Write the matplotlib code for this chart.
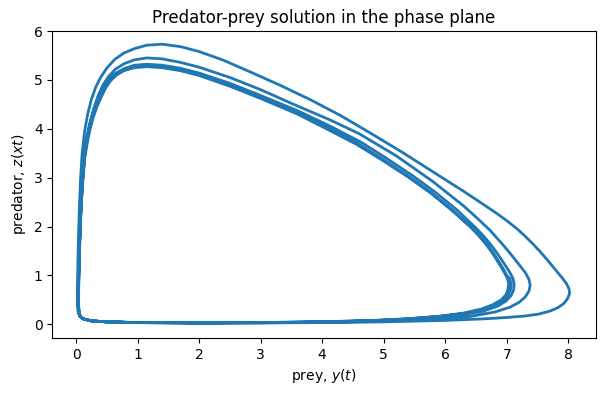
import matplotlib
matplotlib.use("Agg")
import matplotlib.pyplot as plt

# Loop A (outermost, first cycle)
prey_a = [0.12, 0.25, 0.5, 1.0, 2.0, 3.0, 4.0, 5.0, 6.0, 6.6, 7.0, 7.3, 7.52, 7.7, 7.83, 7.93, 7.99, 8.02,
          8.01, 7.97, 7.9, 7.8, 7.67, 7.54, 7.42, 7.3, 7.17, 7.03, 6.88, 6.73, 6.3, 5.8, 5.3, 4.8, 4.3, 3.8,
          3.3, 2.8, 2.4, 2.0, 1.7, 1.4, 1.15, 0.95, 0.78, 0.63, 0.5, 0.4, 0.32, 0.25, 0.19, 0.14, 0.1,
          0.075, 0.055, 0.04, 0.03, 0.022, 0.022, 0.035, 0.06]
pred_a = [0.11, 0.07, 0.05, 0.035, 0.03, 0.03, 0.035, 0.05, 0.08, 0.11, 0.14, 0.17, 0.21, 0.27, 0.34, 0.43, 0.53, 0.63,
          0.73, 0.83, 0.95, 1.1, 1.3, 1.49, 1.65, 1.8, 1.95, 2.09, 2.23, 2.36, 2.72, 3.12, 3.52, 3.9, 4.27, 4.6,
          4.9, 5.18, 5.4, 5.58, 5.68, 5.73, 5.71, 5.64, 5.55, 5.42, 5.24, 5.05, 4.85, 4.6, 4.3, 3.95, 3.5,
          3.0, 2.4, 1.8, 1.2, 0.7, 0.4, 0.24, 0.16]

# Loop B (second cycle)
prey_b = [0.12, 0.25, 0.5, 1.0, 2.0, 3.0, 4.0, 5.0, 5.8, 6.4, 6.8, 7.05, 7.2, 7.3, 7.36, 7.38, 7.36, 7.3,
          7.2, 7.1, 6.97, 6.85, 6.73, 6.52, 6.3, 5.8, 5.2, 4.6, 4.13, 3.5, 3.0, 2.5, 2.0, 1.69, 1.4, 1.15, 0.95,
          0.78, 0.64, 0.53, 0.44, 0.36, 0.29, 0.23, 0.18, 0.14, 0.11, 0.085, 0.065, 0.05, 0.04, 0.037,
          0.045, 0.07]
pred_b = [0.11, 0.07, 0.05, 0.035, 0.03, 0.03, 0.04, 0.065, 0.1, 0.16, 0.25, 0.35, 0.45, 0.56, 0.68, 0.8, 0.92, 1.06,
          1.22, 1.38, 1.58, 1.75, 1.92, 2.17, 2.42, 2.92, 3.45, 3.9, 4.18, 4.52, 4.8, 5.05, 5.26, 5.36, 5.43, 5.45, 5.41,
          5.33, 5.22, 5.07, 4.9, 4.68, 4.42, 4.12, 3.8, 3.45, 3.0, 2.5, 1.9, 1.3, 0.75, 0.4,
          0.25, 0.16]

# Loop C
prey_c = [0.12, 0.25, 0.5, 1.0, 2.0, 3.0, 4.0, 4.8, 5.4, 5.9, 6.3, 6.62, 6.85, 6.99, 7.07, 7.11, 7.12, 7.1,
          7.05, 6.99, 6.92, 6.84, 6.74, 6.62, 6.49, 6.19, 5.84, 5.47, 5.04, 4.64, 4.15, 3.6, 3.0, 2.5, 2.0,
          1.69, 1.4, 1.15, 0.95, 0.78, 0.65, 0.54, 0.46, 0.39, 0.32, 0.26, 0.21, 0.17, 0.135, 0.105, 0.082,
          0.062, 0.048, 0.04, 0.038, 0.046, 0.07]
pred_c = [0.11, 0.07, 0.05, 0.035, 0.03, 0.033, 0.047, 0.07, 0.1, 0.15, 0.2, 0.27, 0.37, 0.48, 0.59, 0.7, 0.82, 0.94,
          1.06, 1.18, 1.31, 1.46, 1.63, 1.81, 1.98, 2.34, 2.7, 3.04, 3.4, 3.72, 4.04, 4.37, 4.68, 4.93, 5.14,
          5.24, 5.3, 5.32, 5.3, 5.23, 5.14, 5.02, 4.87, 4.69, 4.49, 4.27, 4.04, 3.8, 3.47, 3.0, 2.5,
          1.9, 1.3, 0.75, 0.4, 0.25, 0.16]

# Loop D
prey_d = [0.12, 0.25, 0.5, 1.0, 2.0, 3.0, 4.0, 4.8, 5.4, 5.9, 6.3, 6.6, 6.8, 6.94, 7.02, 7.06, 7.07, 7.05,
          7.0, 6.95, 6.88, 6.8, 6.7, 6.58, 6.45, 6.15, 5.8, 5.43, 5.0, 4.6, 4.13, 3.6, 3.0, 2.5, 2.0,
          1.69, 1.4, 1.15, 0.95, 0.78, 0.65, 0.55, 0.47, 0.4, 0.33, 0.27, 0.22, 0.18, 0.14, 0.11, 0.085,
          0.065, 0.05, 0.042, 0.04, 0.048, 0.07]
pred_d = [0.11, 0.07, 0.05, 0.035, 0.03, 0.035, 0.05, 0.075, 0.11, 0.16, 0.22, 0.3, 0.39, 0.49, 0.6, 0.71, 0.82, 0.93,
          1.0, 1.12, 1.26, 1.42, 1.6, 1.78, 1.95, 2.3, 2.66, 3.0, 3.36, 3.68, 4.0, 4.33, 4.65, 4.9, 5.12,
          5.22, 5.28, 5.3, 5.28, 5.21, 5.12, 5.0, 4.85, 4.67, 4.47, 4.25, 4.02, 3.78, 3.45, 3.0, 2.5,
          1.9, 1.3, 0.75, 0.4, 0.25, 0.16]

# Loop E
prey_e = [0.12, 0.25, 0.5, 1.0, 2.0, 3.0, 4.0, 4.8, 5.4, 5.9, 6.3, 6.58, 6.77, 6.91, 6.99, 7.02, 7.03, 7.01,
          6.96, 6.91, 6.84, 6.76, 6.66, 6.54, 6.41, 6.11, 5.76, 5.39, 4.96, 4.56, 4.1, 3.6, 3.0, 2.5, 2.0,
          1.69, 1.4, 1.15, 0.95, 0.78, 0.66, 0.56, 0.48, 0.41, 0.34, 0.28, 0.23, 0.19, 0.145, 0.115, 0.088,
          0.068, 0.052, 0.044, 0.042, 0.05, 0.07]
pred_e = [0.11, 0.07, 0.05, 0.035, 0.03, 0.036, 0.052, 0.078, 0.115, 0.165, 0.23, 0.31, 0.4, 0.5, 0.61, 0.72, 0.83, 0.94,
          1.06, 1.17, 1.31, 1.47, 1.64, 1.82, 1.99, 2.33, 2.69, 3.02, 3.37, 3.68, 3.98, 4.3, 4.62, 4.87, 5.09,
          5.19, 5.25, 5.27, 5.25, 5.19, 5.1, 4.98, 4.83, 4.65, 4.45, 4.23, 4.0, 3.76, 3.43, 3.0, 2.5,
          1.9, 1.3, 0.75, 0.4, 0.25, 0.16]

prey = prey_a + prey_b + prey_c + prey_d + prey_e
predator = pred_a + pred_b + pred_c + pred_d + pred_e

fig = plt.figure(figsize=(6.04, 3.95), dpi=100)
ax = fig.add_axes([0.0866, 0.1443, 0.8997, 0.7772])
ax.plot(prey, predator, color="#1f77b4", lw=2)
ax.set_xlim(-0.385, 8.445)
ax.set_ylim(-0.28, 6.0)
ax.set_xlabel("prey, $y(t)$")
ax.set_ylabel("predator, $z(xt)$")
ax.set_title("Predator-prey solution in the phase plane")
fig.savefig("out.png", dpi=100)
